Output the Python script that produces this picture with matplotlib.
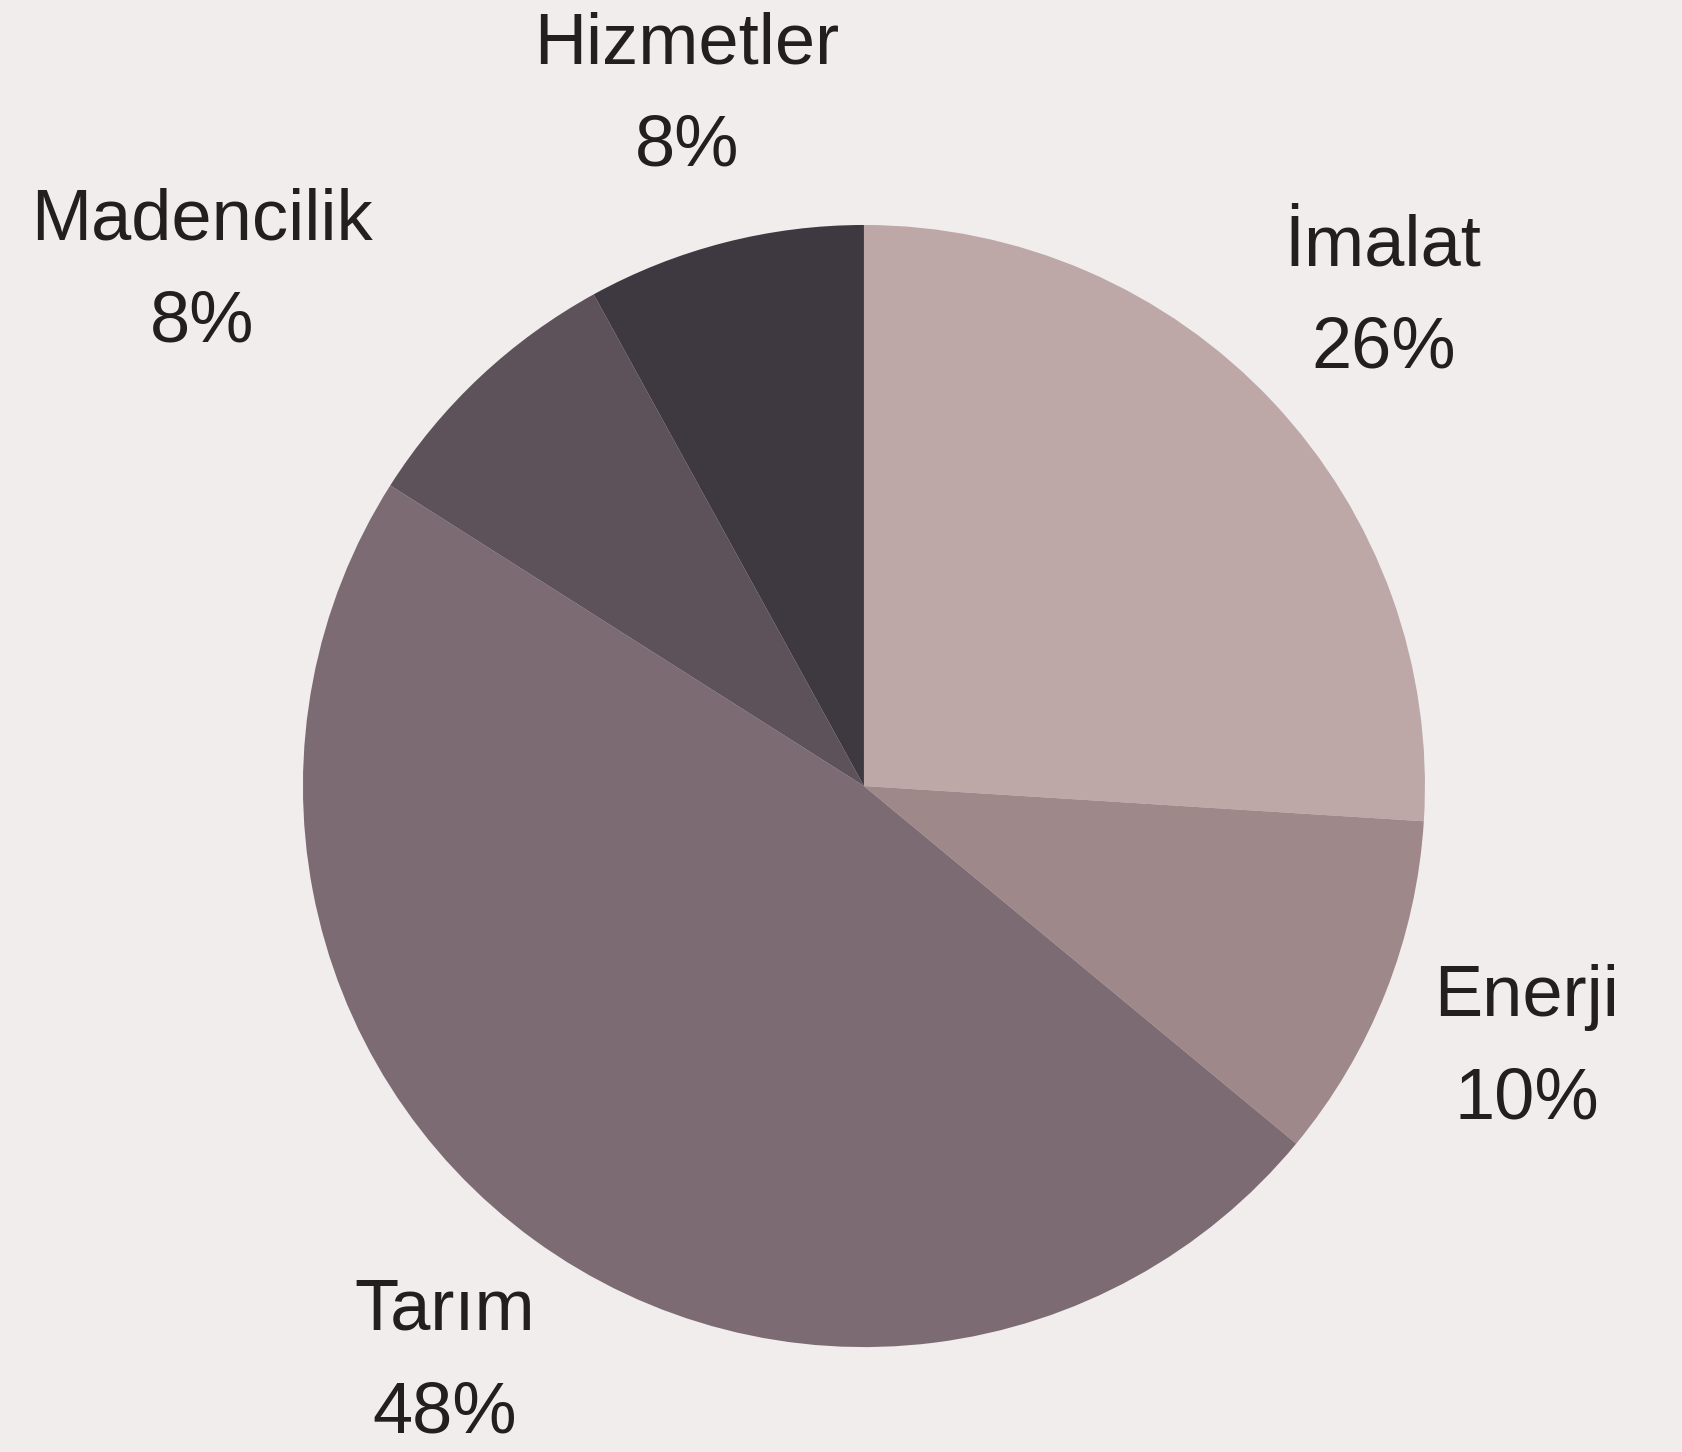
import matplotlib.pyplot as plt
import numpy as np

# veri
sektorler = ["İmalat", "Enerji", "Tarım", "Madencilik", "Hizmetler"]
paylar = [26, 10, 48, 8, 8]
renkler = ["#bda7a7", "#9e8889", "#7d6b73", "#5d525a", "#3e3941"]

arka_plan = "#f1edec"
yazi_rengi = "#231f20"

plt.rcParams['font.family'] = ['Liberation Sans', 'DejaVu Sans']

fig = plt.figure(figsize=(16.83, 14.52), dpi=100, facecolor=arka_plan)
ax = fig.add_axes([0, 0, 1, 1])
ax.set_facecolor(arka_plan)

wedges, _ = ax.pie(paylar, colors=renkler, startangle=90, counterclock=False,
                   radius=1.0, wedgeprops=dict(linewidth=0))

# etiketler - dilim ortasindan disari
for w, ad, pay in zip(wedges, sektorler, paylar):
    aci = np.deg2rad((w.theta1 + w.theta2) / 2)
    r = 1.27
    x, y = r * np.cos(aci), r * np.sin(aci)
    if ad == "Madencilik":   # ust uste binmesin diye biraz disari
        x, y = x - 0.31, y - 0.01
    ax.text(x, y, f"{ad}\n{pay}%", ha="center", va="center",
            fontsize=52, color=yazi_rengi, linespacing=1.68)

ax.set_xlim(-1.540, 1.460)
ax.set_ylim(-1.187, 1.401)
ax.set_aspect("auto")
ax.axis("off")

fig.savefig("out.png", dpi=100, facecolor=arka_plan)
